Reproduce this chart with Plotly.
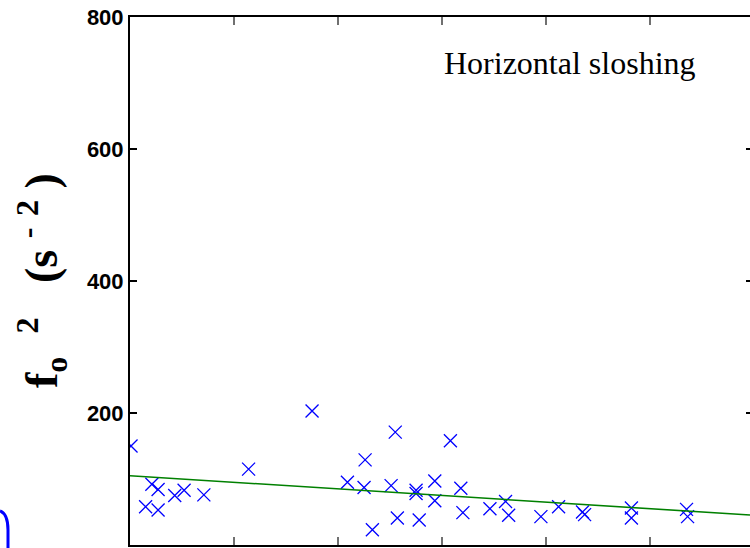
import plotly.graph_objects as go

# ---- data ----
x_vals = [0.1, 1.5, 2.1, 2.7, 2.7, 4.3, 5.2, 7.1, 11.4, 17.5, 20.9, 22.6, 22.5, 23.3,
          25.1, 25.5, 25.7, 27.5, 27.5, 27.8, 29.3, 29.3, 30.8, 31.8, 32.0, 34.6,
          36.1, 36.4, 39.5, 41.2, 43.5, 43.7, 48.2, 48.2, 53.5, 53.6]
y_vals = [150, 58, 92, 84, 53, 75, 83, 76, 115, 203, 95, 129, 87, 23,
          90, 171, 41, 83, 78, 38, 97, 67, 158, 86, 49, 55,
          66, 45, 43, 58, 50, 46, 56, 41, 54, 43]
fit_intercept = 105.0
fit_slope = -1.0
x_range = [0, 59.6]
x_ticks = [0, 10, 20, 30, 40, 50]
y_ticks = [0, 200, 400, 600, 800]
y_ticklabels = ["0", "200", "400", "600", "800"]
title_text = "Horizontal sloshing"
ylabel_text = ("f<sub>o</sub>&nbsp;&nbsp;<sup>2</sup>&nbsp;&nbsp;&nbsp;(s&nbsp;<sup>-</sup>"
               "&nbsp;<sup>2</sup>&nbsp;)")

W, H = 750, 548
ML, MR, MT, MB = 130, 0, 17, 3
PW = W - ML - MR
PH = H - MT - MB


def px_to_paper(px, py):
    return (px - ML) / PW, (H - MB - py) / PH


fit_x = x_range
fit_y = [fit_intercept + fit_slope * v for v in fit_x]

fig = go.Figure()
fig.add_trace(go.Scatter(
    x=x_vals, y=y_vals, mode="markers",
    marker=dict(symbol="x-thin-open", size=13, color="#0000ff",
                line=dict(color="#0000ff", width=1.3)),
    showlegend=False, hoverinfo="skip"))
fig.add_trace(go.Scatter(
    x=fit_x, y=fit_y, mode="lines", yaxis="y2",
    line=dict(color="#008000", width=1.6),
    showlegend=False, hoverinfo="skip"))

fig.update_layout(
    width=W, height=H,
    margin=dict(l=ML, r=MR, t=MT, b=MB, pad=0),
    paper_bgcolor="white", plot_bgcolor="white",
    showlegend=False,
    xaxis=dict(range=x_range, tickvals=x_ticks, showticklabels=False,
               ticks="inside", ticklen=8, tickwidth=1.5, tickcolor="#707070",
               showline=True, linecolor="black", linewidth=2, mirror="ticks",
               showgrid=False, zeroline=False, fixedrange=True),
    yaxis=dict(range=[0, 800], tickvals=y_ticks, ticktext=y_ticklabels,
               ticks="inside", ticklen=7, tickwidth=1.5, tickcolor="black",
               showline=True, linecolor="black", linewidth=2, mirror=False,
               showgrid=False, zeroline=False,
               tickfont=dict(family="Liberation Sans, Arial, sans-serif",
                             size=22, color="black", weight="bold")),
    yaxis2=dict(range=[0, 800], overlaying="y", side="right", tickvals=y_ticks,
                showticklabels=False, ticks="inside", ticklen=4, tickwidth=1.5,
                tickcolor="black", showline=False, showgrid=False, zeroline=False),
)

tx, ty = px_to_paper(570, 63)
fig.add_annotation(text=title_text, xref="paper", yref="paper", x=tx, y=ty,
                   xanchor="center", yanchor="middle", showarrow=False,
                   font=dict(family="Liberation Serif, Times New Roman, serif",
                             size=32, color="black"))

lx, ly = px_to_paper(41, 281)
fig.add_annotation(text=ylabel_text, xref="paper", yref="paper", x=lx, y=ly,
                   xanchor="center", yanchor="middle", showarrow=False,
                   textangle=-90,
                   font=dict(family="Liberation Serif, Times New Roman, serif",
                             size=46, color="black", weight="bold"))

# partial blue arc at the bottom-left edge (part of a neighbouring element)
p0 = px_to_paper(0, 511)
pc = px_to_paper(8, 514)
p1 = px_to_paper(8, 530)
p2 = px_to_paper(8, 552)
path = f"M {p0[0]},{p0[1]} Q {pc[0]},{pc[1]} {p1[0]},{p1[1]} L {p2[0]},{p2[1]}"
fig.add_shape(type="path", path=path, xref="paper", yref="paper",
              line=dict(color="#0000ff", width=3))

fig.write_html("out.html")
